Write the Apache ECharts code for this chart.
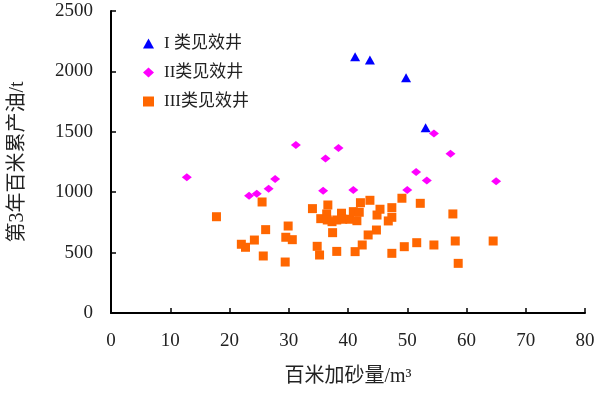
<!DOCTYPE html>
<html>
<head>
<meta charset="utf-8">
<script src="https://cdn.jsdelivr.net/npm/echarts@6/dist/echarts.min.js"></script>
<style>
  html, body { margin: 0; padding: 0; background: #fff; }
  #chart { width: 599px; height: 396px; }
</style>
</head>
<body>
<div id="chart"></div>
<script>
  // 百米加砂量 (m3) vs 第3年百米累产油 (t)
  var typeOne = [
    [41.2, 2122], [43.7, 2095], [49.8, 1948], [53.1, 1534]
  ];
  var typeTwo = [
    [12.8, 1124], [23.3, 971], [24.6, 988], [26.6, 1029], [27.7, 1110],
    [31.2, 1391], [35.8, 1013], [36.2, 1278], [38.4, 1366], [40.9, 1018],
    [50.0, 1018], [51.5, 1167], [53.3, 1096], [54.5, 1485], [57.3, 1319],
    [65.0, 1090]
  ];
  var typeThree = [
    [17.8, 797], [22.0, 569], [22.7, 544], [24.2, 604], [25.5, 919],
    [25.7, 472], [26.1, 690], [29.4, 422], [29.5, 627], [29.9, 720],
    [30.6, 607], [34.0, 864], [34.8, 552], [35.2, 480], [35.4, 781],
    [36.4, 820], [36.5, 770], [36.6, 894], [37.3, 756], [37.4, 665],
    [38.1, 770], [38.1, 510], [38.9, 826], [39.1, 776], [40.3, 776],
    [40.9, 839], [41.2, 508], [41.5, 764], [41.9, 834], [42.1, 913],
    [42.4, 563], [43.4, 646], [43.7, 933], [44.8, 687], [44.9, 811],
    [45.4, 859], [46.8, 762], [47.4, 872], [47.4, 792], [47.4, 494],
    [49.1, 950], [49.5, 549], [51.6, 582], [52.2, 908], [54.5, 563],
    [57.7, 820], [58.1, 596], [58.6, 411], [64.5, 596]
  ];
  var seriesNames = ['I 类见效井', 'II类见效井', 'III类见效井'];

  var serif = '"Liberation Serif", "Noto Sans CJK SC", serif';
  var chart = echarts.init(document.getElementById('chart'));

  var axisCommon = {
    axisLine: { show: true, lineStyle: { color: '#000', width: 2 } },
    axisTick: { show: true, inside: true, length: 5, lineStyle: { color: '#000', width: 1.5 } },
    splitLine: { show: false },
    axisLabel: {
      color: '#222', fontFamily: serif, fontSize: 19,
      formatter: function (v) { return String(v); }
    },
    nameTextStyle: { color: '#222', fontFamily: serif, fontSize: 20 }
  };

  var option = {
    backgroundColor: '#fff',
    animation: false,
    grid: { left: 111, right: 14, top: 11, bottom: 83 },
    legend: {
      orient: 'vertical',
      left: 138,
      top: 30,
      itemGap: 12,
      itemWidth: 11,
      itemHeight: 10,
      textStyle: { color: '#222', fontFamily: serif, fontSize: 17, padding: [0, 0, 0, 5] },
      data: seriesNames
    },
    xAxis: Object.assign({}, axisCommon, {
      type: 'value',
      min: 0, max: 80, interval: 10,
      name: '百米加砂量/m³',
      nameLocation: 'middle',
      nameGap: 54,
      axisLabel: Object.assign({}, axisCommon.axisLabel, { margin: 19 })
    }),
    yAxis: Object.assign({}, axisCommon, {
      type: 'value',
      min: 0, max: 2500, interval: 500,
      name: '第3年百米累产油/t',
      nameLocation: 'middle',
      nameGap: 83,
      axisLabel: Object.assign({}, axisCommon.axisLabel, { margin: 18 })
    }),
    series: [
      {
        name: seriesNames[0], type: 'scatter', data: typeOne,
        symbol: 'triangle', symbolSize: [10, 9],
        itemStyle: { color: '#0000ff', opacity: 1 }
      },
      {
        name: seriesNames[1], type: 'scatter', data: typeTwo,
        symbol: 'diamond', symbolSize: [10, 8],
        itemStyle: { color: '#ff00ff', opacity: 1 }
      },
      {
        name: seriesNames[2], type: 'scatter', data: typeThree,
        symbol: 'rect', symbolSize: 9,
        itemStyle: { color: '#ff6600', opacity: 1 }
      }
    ]
  };

  chart.setOption(option);
</script>
</body>
</html>
